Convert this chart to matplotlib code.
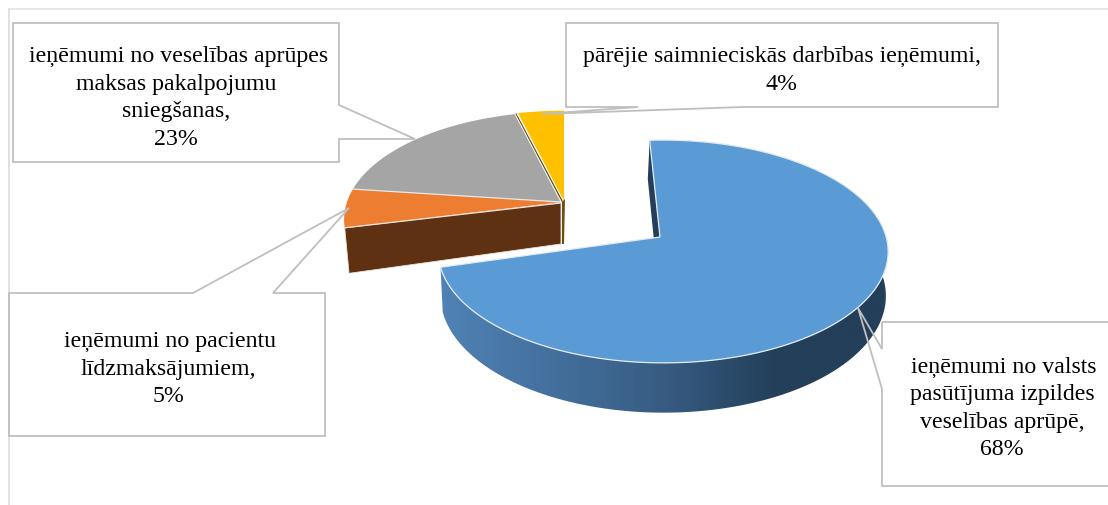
import numpy as np
import matplotlib
matplotlib.use("Agg")
import matplotlib.pyplot as plt
from matplotlib.patches import Polygon

categories = ["ieņēmumi no valsts pasūtījuma izpildes veselības aprūpē",
              "ieņēmumi no pacientu līdzmaksājumiem",
              "ieņēmumi no veselības aprūpes maksas pakalpojumu sniegšanas",
              "pārējie saimnieciskās darbības ieņēmumi"]
label_pct = [68, 5, 23, 4]
# the drawn slices do not quite follow the printed percentages, so read them apart
drawn_share = [71.2, 5.8, 19.0, 4.0]
colors = ["#5B9BD5", "#ED7D31", "#A5A5A5", "#FFC000"]

plt.rcParams['font.family'] = ['Liberation Serif', 'DejaVu Serif']
W, H = 1108, 506
fig = plt.figure(figsize=(W / 100, H / 100), dpi=100)
ax = fig.add_axes([0, 0, 1, 1])
ax.set_xlim(0, W)
ax.set_ylim(H, 0)
ax.axis("off")

GREY = "#BFBFBF"
EDGE = "#E4EBF2"


def rim(theta, apex, a=222, b=105, p=0.163, q=0.0):
    # circle seen in perspective, theta clockwise from the back in degrees
    t = np.radians(theta)
    w = 1 + p * np.cos(t) - q * np.sin(t)
    return np.column_stack([apex[0] + a * np.sin(t) / w, apex[1] - b * np.cos(t) / w])


def lower(pts, apex, depth, sx=0.98, sy=0.98):
    out = pts.copy()
    out[:, 0] = apex[0] + (pts[:, 0] - apex[0]) * sx
    out[:, 1] = apex[1] + (pts[:, 1] - apex[1]) * sy + depth
    return out


ends = np.cumsum(drawn_share) * 3.6
starts = ends - np.array(drawn_share) * 3.6

# frame
ax.plot([9, 9], [H, 10], color="#D9D9D9", lw=1.1, zorder=1)
ax.plot([9, W], [10, 10], color="#DEDEDE", lw=1.1, zorder=1)

# big exploded slice
ap1 = (660, 238)
kw1 = dict(a=223, b=109.5, p=0.13, q=0.014)
th = np.linspace(starts[0] - 3.0, ends[0] - 2.0, 300)
top1 = rim(th, ap1, **kw1)
low1 = lower(top1, ap1, 43.5, sx=0.99, sy=1.05)

# outer wall with the gradient, only the front part is seen
wall = Polygon(np.vstack([top1, low1[::-1]]), closed=True, fc="none", ec="none", zorder=2)
ax.add_patch(wall)
grad = np.linspace(0, 1, 256)[None, :]
cmap = matplotlib.colors.LinearSegmentedColormap.from_list(
    "wall", ["#5083B6", "#44709E", "#375C82", "#233F59", "#233F59"])
im = ax.imshow(grad, extent=(436, 892, 420, 130), cmap=cmap, aspect="auto", zorder=2)
im.set_clip_path(wall)
ax.set_xlim(0, W)
ax.set_ylim(H, 0)

# inner cut wall behind the top face
inner = np.array([top1[0], low1[0] + (-2, 0), lower(np.array([ap1], float), ap1, 43.5, 0.99, 1.05)[0] + (-2, 0), ap1])
ax.add_patch(Polygon(inner, closed=True, fc="#233F59", ec="none", zorder=3))
ax.add_patch(Polygon(np.vstack([ap1, top1]), closed=True, fc=colors[0], ec=EDGE, lw=0.9, zorder=4))

# the other three slices share one centre
ap2 = (561, 203)
kw2 = dict(a=214, b=105, p=0.163)
# front cut wall of the orange slice
t_or = rim(np.array([starts[1]]), ap2, **kw2)
low_or = lower(t_or, ap2, 46)
low_ap = (561, 245)
ax.add_patch(Polygon(np.vstack([ap2, t_or, low_or, low_ap]), closed=True, fc="#5E3113", ec="#F2E2D6", lw=0.6, zorder=3))
ax.add_patch(Polygon([(562, 203), (565, 200), (564, 245), (562, 245)], closed=True, fc="#6B4E12", ec="none", zorder=3))
for i in [1, 2, 3]:
    tt = np.linspace(starts[i], ends[i], 80)
    apex = ap2 if i < 3 else (564, 202)
    pts = rim(tt, apex, **kw2)
    ax.add_patch(Polygon(np.vstack([apex, pts]), closed=True, fc=colors[i], ec="none", zorder=4))
# light seams between the slices
seam1 = rim(np.array([starts[2]]), ap2, **kw2)[0]
ax.plot([ap2[0], seam1[0]], [ap2[1], seam1[1]], color="#E8E8E8", lw=0.9, zorder=5)
ax.plot([ap2[0], t_or[0, 0]], [ap2[1] + 1, t_or[0, 1]], color="#F6E6DA", lw=0.9, zorder=5)
seam2 = rim(np.array([starts[3]]), ap2, **kw2)[0]
ax.plot([ap2[0] + 1, seam2[0] + 1], [ap2[1] - 1, seam2[1]], color="#6B4E12", lw=1.0, zorder=5)
ax.plot([ap2[0], seam2[0]], [ap2[1], seam2[1]], color="#F0F0F0", lw=0.7, zorder=5)

# callouts
boxes = [
    [(882, 323), (1112, 323), (1112, 487), (882, 487), (882, 390), (858, 309), (882, 350)],
    [(9, 294), (193, 294), (349, 209), (273, 294), (325, 294), (325, 437), (9, 437)],
    [(13, 24), (339, 24), (339, 106), (415, 140), (339, 140), (339, 163), (13, 163)],
    [(566, 24), (998, 24), (998, 108), (743, 108), (542, 115), (638, 108), (566, 108)],
]
for b in boxes:
    ax.add_patch(Polygon(b, closed=True, fc="none", ec=GREY, lw=1.3, zorder=6, joinstyle="miter"))

lines = [
    ["ieņēmumi no valsts", "pasūtījuma izpildes", "veselības aprūpē,"],
    ["ieņēmumi no pacientu", "līdzmaksājumiem,"],
    ["ieņēmumi no veselības aprūpes", "maksas pakalpojumu", "sniegšanas,"],
    ["pārējie saimnieciskās darbības ieņēmumi,"],
]
anchors = [(1002, 372.5), (168, 347), (176, 62), (782, 62)]
first_dx = [2, 2, 3, 0]
for txt, pct, (x, y), dx in zip(lines, label_pct, anchors, first_dx):
    for k, s in enumerate(txt + [f"{pct}%"]):
        ax.text(x + (dx if k == 0 else 0), y + k * 27.6, s, ha="center", va="baseline",
                fontsize=17.2, color="#000000", zorder=7)

fig.savefig("out.png", dpi=100)
